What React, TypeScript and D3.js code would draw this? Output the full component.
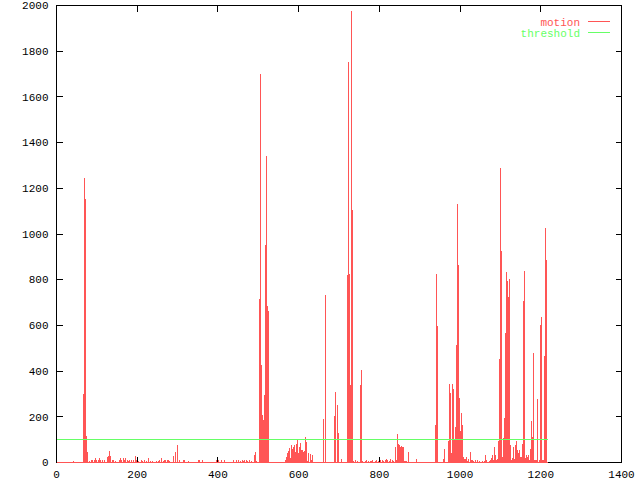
import { useRef, useEffect } from "react";
import * as d3 from "d3";

// frame index, motion amount
const motion: [number, number][] = [
  [0, 0], [43, 6],
  [67, 298], [69, 1245], [72, 1153], [74, 114], [77, 48],
  [82, 6], [86, 9], [90, 13], [93, 9], [96, 18], [99, 9], [103, 12], [107, 18], [109, 9],
  [113, 13], [115, 6], [119, 9], [123, 4], [126, 22], [128, 29], [131, 50], [133, 29],
  [138, 12], [142, 9], [145, 6], [150, 4], [156, 13], [159, 18], [161, 12], [165, 20],
  [169, 13], [171, 18], [175, 9], [178, 6], [181, 13], [185, 9], [188, 4], [191, 9],
  [196, 29], [199, 12], [202, 6], [206, 4], [210, 9], [214, 6], [219, 13], [223, 6],
  [228, 18], [233, 6], [236, 4], [239, 6], [243, 4], [247, 6], [252, 6], [256, 9],
  [261, 18], [264, 6], [267, 12], [271, 13], [274, 12], [277, 13], [281, 6], [285, 4],
  [289, 12], [291, 29], [294, 44], [296, 38], [299, 75], [301, 18], [305, 12], [310, 4],
  [314, 9], [318, 13], [322, 4], [326, 6], [330, 4], [334, 4], [338, 4], [343, 4],
  [347, 4], [351, 9], [355, 9], [359, 4], [363, 9], [367, 4], [372, 4], [376, 4],
  [380, 4], [388, 4], [396, 13], [401, 13], [409, 13], [413, 4], [417, 9], [421, 4],
  [425, 4], [434, 4], [438, 9], [446, 9], [450, 13],
  [455, 6], [458, 4], [461, 9], [464, 6], [467, 12], [470, 9], [473, 6], [476, 4],
  [479, 9], [482, 6], [485, 4], [491, 35], [493, 48], [496, 6], [499, 4],
  [503, 715], [505, 1702], [508, 425], [510, 206], [513, 184], [515, 294], [518, 952],
  [520, 1342], [523, 684], [525, 662],
  [528, 3], [531, 3], [535, 1], [540, 1], [545, 2], [550, 3], [555, 3], [560, 3],
  [567, 13], [570, 25], [572, 40], [575, 50], [577, 64], [580, 21], [582, 75], [585, 60],
  [587, 70], [590, 75], [592, 45], [595, 82], [597, 104], [600, 42], [602, 67], [605, 86],
  [607, 54], [610, 53], [612, 48], [615, 50], [617, 110], [620, 88], [622, 6], [624, 41],
  [627, 4], [629, 38], [632, 13], [634, 35], [637, 4],
  [640, 3], [645, 3], [650, 3], [655, 2],
  [662, 189], [667, 732], [670, 2], [674, 2], [678, 2], [682, 2], [685, 2],
  [689, 202], [691, 307], [694, 2], [696, 250], [699, 127], [701, 3], [706, 14],
  [710, 3], [714, 3], [717, 3],
  [721, 820], [724, 1751], [726, 825], [728, 338], [731, 1978], [733, 1105],
  [736, 6], [738, 4], [741, 9], [744, 4], [746, 6], [749, 4],
  [753, 338], [756, 404], [759, 5], [762, 3], [765, 6], [768, 10], [771, 4], [774, 6],
  [778, 8], [781, 5], [784, 12], [787, 4], [790, 6], [794, 13], [797, 6], [800, 4],
  [804, 9], [807, 12], [811, 6], [814, 10], [818, 16], [821, 12], [825, 8], [828, 14],
  [832, 10], [836, 6],
  [840, 67], [842, 10], [845, 123], [847, 82], [850, 78], [852, 67], [855, 73], [857, 67],
  [860, 70], [862, 6], [865, 6], [867, 6], [872, 48], [875, 3], [880, 3], [885, 3],
  [892, 16], [897, 3], [903, 3], [910, 3], [917, 3], [925, 3], [932, 3], [936, 3],
  [939, 162], [942, 825], [944, 596], [947, 3], [951, 3], [955, 3], [959, 16], [961, 60],
  [964, 4], [966, 4], [969, 4],
  [971, 92], [974, 342], [976, 304], [979, 41], [981, 342], [984, 320], [986, 104],
  [989, 155], [991, 513], [994, 1132], [996, 864], [999, 281], [1001, 136], [1004, 215],
  [1006, 162], [1008, 23], [1011, 15], [1013, 15], [1016, 23], [1018, 6], [1022, 15],
  [1026, 45], [1028, 12], [1030, 12], [1033, 6], [1036, 4], [1039, 9], [1042, 12],
  [1045, 4], [1048, 6], [1051, 4], [1055, 6], [1058, 4], [1061, 6], [1064, 35], [1066, 9],
  [1069, 4], [1072, 6], [1076, 9], [1078, 20], [1080, 32], [1083, 9], [1085, 70],
  [1088, 34], [1090, 12], [1093, 16], [1095, 94], [1098, 451], [1100, 1291], [1103, 927],
  [1105, 26], [1108, 108], [1110, 193], [1113, 567], [1115, 835], [1117, 795], [1120, 725],
  [1122, 804], [1125, 76], [1127, 12], [1130, 20], [1132, 67], [1135, 15], [1137, 76],
  [1140, 96], [1142, 53], [1145, 41], [1147, 53], [1150, 26], [1152, 23], [1155, 79],
  [1157, 708], [1160, 839], [1162, 20], [1165, 32], [1167, 26], [1170, 35], [1172, 12],
  [1174, 58], [1177, 181], [1179, 111], [1182, 479], [1184, 12], [1187, 9], [1189, 9],
  [1192, 278], [1194, 3], [1197, 9], [1199, 601], [1202, 637], [1204, 9], [1207, 9],
  [1209, 465], [1212, 1026], [1214, 886], [1217, 0],
];

const threshold = 100;

const xTicks = [0, 200, 400, 600, 800, 1000, 1200, 1400];
const yTicks = [0, 200, 400, 600, 800, 1000, 1200, 1400, 1600, 1800, 2000];

const legend = [
  { name: "motion", color: "#ff5555" },
  { name: "threshold", color: "#66ff66" },
];

export default function App() {
  const svgRef = useRef<SVGSVGElement>(null);

  useEffect(() => {
    if (!svgRef.current) return;
    const svg = d3.select(svgRef.current);
    svg.selectAll("*").remove();

    const width = 640;
    const height = 480;
    const font = "'Liberation Mono', 'DejaVu Sans Mono', monospace";

    const x = d3.scaleLinear().domain([0, 1400]).range([56.5, 621.5]);
    const y = d3.scaleLinear().domain([0, 2000]).range([462.5, 5.5]);
    const px = (v: number) => Math.floor(x(v)) + 0.5;
    const py = (v: number) => Math.floor(y(v)) + 0.5;

    svg.attr("viewBox", `0 0 ${width} ${height}`);
    svg.append("rect").attr("width", width).attr("height", height).attr("fill", "#fff");

    // ticks (inward, mirrored)
    const tickLen = 6;
    const ticks = svg.append("g").attr("stroke", "#000").attr("shape-rendering", "crispEdges");
    yTicks.forEach((t) => {
      ticks.append("line").attr("x1", x(0)).attr("x2", x(0) + tickLen).attr("y1", py(t)).attr("y2", py(t));
      ticks.append("line").attr("x1", x(1400)).attr("x2", x(1400) - tickLen).attr("y1", py(t)).attr("y2", py(t));
    });
    xTicks.forEach((t) => {
      ticks.append("line").attr("x1", px(t)).attr("x2", px(t)).attr("y1", y(0)).attr("y2", y(0) - tickLen);
      ticks.append("line").attr("x1", px(t)).attr("x2", px(t)).attr("y1", y(2000)).attr("y2", y(2000) + tickLen);
    });

    svg.append("g")
      .selectAll("text")
      .data(yTicks)
      .enter()
      .append("text")
      .attr("x", 48.5)
      .attr("y", (d) => y(d))
      .attr("dy", "0.34em")
      .attr("text-anchor", "end")
      .attr("font-family", font)
      .attr("font-size", "11px")
      .text((d) => d);

    svg.append("g")
      .selectAll("text")
      .data(xTicks)
      .enter()
      .append("text")
      .attr("x", (d) => x(d))
      .attr("y", 478)
      .attr("text-anchor", "middle")
      .attr("font-family", font)
      .attr("font-size", "11px")
      .text((d) => d);

    // border
    svg.append("rect")
      .attr("x", x(0))
      .attr("y", y(2000))
      .attr("width", x(1400) - x(0))
      .attr("height", y(0) - y(2000))
      .attr("fill", "none")
      .attr("stroke", "#000")
      .attr("shape-rendering", "crispEdges");

    const lastX = motion[motion.length - 1][0];

    // motion impulses
    const g = svg.append("g").attr("stroke", legend[0].color).attr("shape-rendering", "crispEdges");
    g.append("line").attr("x1", x(0)).attr("x2", px(lastX) + 0.5).attr("y1", y(0)).attr("y2", y(0));
    g.selectAll(".imp")
      .data(motion.filter((d) => d[1] > 0))
      .enter()
      .append("line")
      .attr("class", "imp")
      .attr("x1", (d) => px(d[0]))
      .attr("x2", (d) => px(d[0]))
      .attr("y1", y(0))
      .attr("y2", (d) => y(d[1]));

    // threshold
    svg.append("line")
      .attr("x1", x(0))
      .attr("x2", px(lastX) + 0.5)
      .attr("y1", py(threshold))
      .attr("y2", py(threshold))
      .attr("stroke", legend[1].color)
      .attr("shape-rendering", "crispEdges");

    // legend
    legend.forEach((l, i) => {
      const ly = 21.5 + i * 11;
      svg.append("text")
        .attr("x", 580)
        .attr("y", ly + 4)
        .attr("text-anchor", "end")
        .attr("font-family", font)
        .attr("font-size", "11px")
        .attr("fill", l.color)
        .text(l.name);
      svg.append("line")
        .attr("x1", 588)
        .attr("x2", 610)
        .attr("y1", ly)
        .attr("y2", ly)
        .attr("stroke", l.color)
        .attr("shape-rendering", "crispEdges");
    });
  }, []);

  return (
    <svg
      ref={svgRef}
      width={640}
      height={480}
      style={{ position: "absolute", left: 0, top: 0, display: "block" }}
    />
  );
}
